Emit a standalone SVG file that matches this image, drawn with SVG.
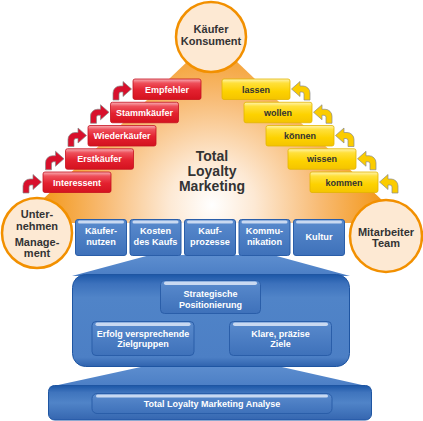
<svg xmlns="http://www.w3.org/2000/svg" width="423" height="421" viewBox="0 0 423 421">
<defs>
<radialGradient id="gOr" cx="212" cy="205" r="195" gradientUnits="userSpaceOnUse">
<stop offset="0" stop-color="#ffffff"/>
<stop offset="0.22" stop-color="#fde9d4"/>
<stop offset="0.55" stop-color="#f8bb74"/>
<stop offset="0.85" stop-color="#f39a20"/>
<stop offset="1" stop-color="#f29000"/>
</radialGradient>
<linearGradient id="gRed" x1="0" y1="0" x2="0" y2="1">
<stop offset="0" stop-color="#f8b0b6"/>
<stop offset="0.2" stop-color="#ee4f5a"/>
<stop offset="0.55" stop-color="#e3212f"/>
<stop offset="1" stop-color="#d4121f"/>
</linearGradient>
<linearGradient id="gYel" x1="0" y1="0" x2="0" y2="1">
<stop offset="0" stop-color="#fff4b0"/>
<stop offset="0.2" stop-color="#ffe03a"/>
<stop offset="0.6" stop-color="#fdd200"/>
<stop offset="1" stop-color="#f4c400"/>
</linearGradient>
<linearGradient id="gBlue" x1="0" y1="0" x2="0" y2="1">
<stop offset="0" stop-color="#5a8bcd"/>
<stop offset="1" stop-color="#3e71ba"/>
</linearGradient>
<linearGradient id="gBig" x1="0" y1="0" x2="0" y2="1">
<stop offset="0" stop-color="#1c57a7"/>
<stop offset="0.1" stop-color="#3c71bc"/>
<stop offset="0.25" stop-color="#5084c8"/>
<stop offset="0.9" stop-color="#4c7fc5"/>
<stop offset="1" stop-color="#2f63ae"/>
</linearGradient>
<linearGradient id="gBar" x1="0" y1="0" x2="0" y2="1">
<stop offset="0" stop-color="#1c57a7"/>
<stop offset="0.2" stop-color="#3f74bd"/>
<stop offset="0.5" stop-color="#5084c8"/>
<stop offset="1" stop-color="#3566b0"/>
</linearGradient>
<linearGradient id="gTrap" x1="0" y1="0" x2="0" y2="1">
<stop offset="0" stop-color="#5d8ecf"/>
<stop offset="1" stop-color="#4b7ec5"/>
</linearGradient>
<path id="arr" d="M0,20 V13 A7,7 0 0 1 7,6 H10 V1.5 L18.5,9 L10,16.5 V12 H8 A2,2 0 0 0 6,14 V20 Z"/>
</defs>
<style>
.circ{fill:#fde9d3;stroke:#f29000;stroke-width:2.5}
.ct{font-family:"Liberation Sans",Arial,sans-serif;font-weight:bold;font-size:11px;fill:#333;text-anchor:middle}
.big{font-family:"Liberation Sans",Arial,sans-serif;font-weight:bold;font-size:14px;fill:#333;text-anchor:middle}
.rb{fill:url(#gRed);stroke:#c4101e;stroke-width:0.8}
.yb{fill:url(#gYel);stroke:#e2b500;stroke-width:0.8}
.wt{font-family:"Liberation Sans",Arial,sans-serif;font-weight:bold;font-size:9px;fill:#fff;text-anchor:middle}
.wt2{font-family:"Liberation Sans",Arial,sans-serif;font-weight:bold;font-size:9.2px;fill:#fff;text-anchor:middle}
.dt{font-family:"Liberation Sans",Arial,sans-serif;font-weight:bold;font-size:9px;fill:#333;text-anchor:middle}
.bb{fill:url(#gBlue);stroke:#2a5ea9;stroke-width:1}
.hl{fill:#c9d9f1}
.ra{fill:#d8102c;stroke:#8a8a8a;stroke-width:0.7}
.ya{fill:#fbcc00;stroke:#8a8a8a;stroke-width:0.7}
.trap{fill:url(#gTrap)}
</style>
<rect width="423" height="421" fill="#fff"/>
<polygon id="triangle" points="212,38 18,223 406,223" fill="url(#gOr)"/>
<text class="big" x="212" y="160.5">Total</text>
<text class="big" x="212" y="175.5">Loyalty</text>
<text class="big" x="212" y="190.5">Marketing</text>

<g id="connectors">
<polygon class="trap" points="150,255 273,255 350,276 72,276"/>
<polygon class="trap" points="150,365 273,365 371,387 49,387"/>
<use href="#arr" class="ra" x="23" y="173"/>
<use href="#arr" class="ra" x="45.5" y="149.75"/>
<use href="#arr" class="ra" x="68" y="126.5"/>
<use href="#arr" class="ra" x="90.5" y="103.25"/>
<use href="#arr" class="ra" x="113" y="80"/>
<use href="#arr" class="ya" transform="translate(398,173) scale(-1,1)"/>
<use href="#arr" class="ya" transform="translate(376,149.75) scale(-1,1)"/>
<use href="#arr" class="ya" transform="translate(354,126.5) scale(-1,1)"/>
<use href="#arr" class="ya" transform="translate(332,103.25) scale(-1,1)"/>
<use href="#arr" class="ya" transform="translate(310,80) scale(-1,1)"/>
</g>

<g id="kaeufer">
<circle class="circ" cx="211" cy="37" r="35"/>
<text class="ct" x="211" y="32.5">Käufer</text>
<text class="ct" x="211" y="45">Konsument</text>
</g>
<g id="unternehmen">
<circle class="circ" cx="37" cy="233" r="35"/>
<text class="ct" x="37" y="218">Unter-</text>
<text class="ct" x="37" y="230">nehmen</text>
<text class="ct" x="37" y="246">Manage-</text>
<text class="ct" x="37" y="257">ment</text>
</g>
<g id="mitarbeiter">
<circle class="circ" cx="386" cy="236" r="36"/>
<text class="ct" x="386" y="235.5">Mitarbeiter</text>
<text class="ct" x="386" y="246.5">Team</text>
</g>

<g id="interessent"><rect class="rb" x="43" y="172" width="68" height="20.5" rx="2"/><text class="wt" x="77" y="185.5">Interessent</text></g>
<g id="erstkaeufer"><rect class="rb" x="65.5" y="148.75" width="68" height="20.5" rx="2"/><text class="wt" x="99.5" y="162.25">Erstkäufer</text></g>
<g id="wiederkaeufer"><rect class="rb" x="88" y="125.5" width="68" height="20.5" rx="2"/><text class="wt" x="122" y="139">Wiederkäufer</text></g>
<g id="stammkaeufer"><rect class="rb" x="110.5" y="102.25" width="68" height="20.5" rx="2"/><text class="wt" x="144.5" y="115.75">Stammkäufer</text></g>
<g id="empfehler"><rect class="rb" x="133" y="79" width="68" height="20.5" rx="2"/><text class="wt" x="167" y="92.5">Empfehler</text></g>

<g id="kommen"><rect class="yb" x="310" y="172" width="68" height="20.5" rx="2"/><text class="dt" x="344" y="185.5">kommen</text></g>
<g id="wissen"><rect class="yb" x="288" y="148.75" width="68" height="20.5" rx="2"/><text class="dt" x="322" y="162.25">wissen</text></g>
<g id="koennen"><rect class="yb" x="266" y="125.5" width="68" height="20.5" rx="2"/><text class="dt" x="300" y="139">können</text></g>
<g id="wollen"><rect class="yb" x="244" y="102.25" width="68" height="20.5" rx="2"/><text class="dt" x="278" y="115.75">wollen</text></g>
<g id="lassen"><rect class="yb" x="222" y="79" width="68" height="20.5" rx="2"/><text class="dt" x="256" y="92.5">lassen</text></g>

<g id="kaeufernutzen"><rect class="bb" x="75.5" y="219.5" width="51" height="36" rx="2.5"/><rect class="hl" x="78" y="220.5" width="46" height="3" rx="1.5"/><text class="wt2" x="101" y="234">Käufer-</text><text class="wt2" x="101" y="244.5">nutzen</text></g>
<g id="kosten"><rect class="bb" x="130" y="219.5" width="51" height="36" rx="2.5"/><rect class="hl" x="132.5" y="220.5" width="46" height="3" rx="1.5"/><text class="wt2" x="155.5" y="234">Kosten</text><text class="wt2" x="155.5" y="244.5">des Kaufs</text></g>
<g id="kaufprozesse"><rect class="bb" x="184.5" y="219.5" width="51" height="36" rx="2.5"/><rect class="hl" x="187" y="220.5" width="46" height="3" rx="1.5"/><text class="wt2" x="210" y="234">Kauf-</text><text class="wt2" x="210" y="244.5">prozesse</text></g>
<g id="kommunikation"><rect class="bb" x="239" y="219.5" width="51" height="36" rx="2.5"/><rect class="hl" x="241.5" y="220.5" width="46" height="3" rx="1.5"/><text class="wt2" x="264.5" y="234">Kommu-</text><text class="wt2" x="264.5" y="244.5">nikation</text></g>
<g id="kultur"><rect class="bb" x="293.5" y="219.5" width="51" height="36" rx="2.5"/><rect class="hl" x="296" y="220.5" width="46" height="3" rx="1.5"/><text class="wt2" x="319" y="239.5">Kultur</text></g>

<g id="strategie">
<rect x="72.5" y="274.5" width="277" height="92" rx="13" fill="url(#gBig)" stroke="#1e55a2" stroke-width="1"/>
<g id="positionierung"><rect class="bb" x="160.5" y="280.5" width="100" height="33" rx="4"/><rect class="hl" x="164" y="281.5" width="93" height="3.5" rx="1.75"/><text class="wt" x="210.5" y="297">Strategische</text><text class="wt" x="210.5" y="307.5">Positionierung</text></g>
<g id="zielgruppen"><rect class="bb" x="92" y="321.5" width="102" height="34" rx="4"/><rect class="hl" x="95.5" y="322.5" width="95" height="3.5" rx="1.75"/><text class="wt" x="143" y="336.5">Erfolg versprechende</text><text class="wt" x="143" y="347">Zielgruppen</text></g>
<g id="ziele"><rect class="bb" x="229.5" y="321.5" width="102" height="34" rx="4"/><rect class="hl" x="233" y="322.5" width="95" height="3.5" rx="1.75"/><text class="wt" x="280.5" y="336.5">Klare, präzise</text><text class="wt" x="280.5" y="347">Ziele</text></g>
</g>

<g id="analyse">
<rect x="48.5" y="385.5" width="323" height="34.5" rx="6" fill="url(#gBar)" stroke="#1e55a2" stroke-width="1"/>
<rect class="bb" x="92" y="393.5" width="240" height="20" rx="5"/><rect class="hl" x="96" y="394.5" width="232" height="3" rx="1.5"/>
<text class="wt" x="212" y="407">Total Loyalty Marketing Analyse</text>
</g>
</svg>
